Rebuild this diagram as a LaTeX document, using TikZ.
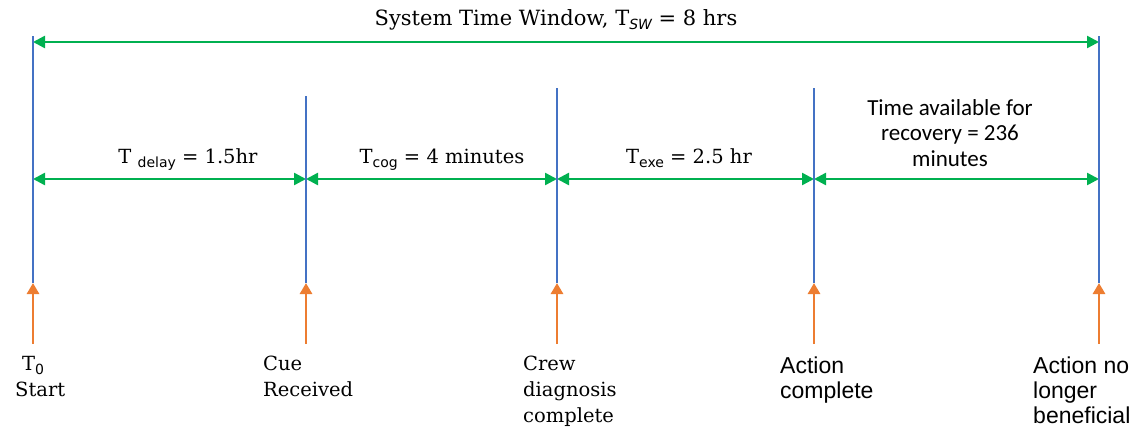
\documentclass[tikz,border=0pt]{standalone}
\usepackage{fontspec}
\setmainfont{DejaVu Serif}
\newfontfamily\calibf{Carlito}
\newfontfamily\arialf{Liberation Sans}
\newfontfamily\subf{DejaVu Sans}
\usetikzlibrary{arrows.meta}
\definecolor{tlgreen}{HTML}{00B050}
\definecolor{tlblue}{HTML}{4472C4}
\definecolor{tlorange}{HTML}{ED7D31}
\newcommand\lowsub[1]{\raisebox{-4.5pt}{\fontsize{14}{14}\selectfont\subf #1}}
\tikzset{
  marker/.style={draw=tlblue, line width=2.8pt},
  span/.style={draw=tlgreen, line width=2.5pt,
    {Triangle[length=12pt,width=12pt]}-{Triangle[length=12pt,width=12pt]}},
  cue/.style={draw=tlorange, line width=2.8pt, -{Triangle[length=11pt,width=12pt]}},
  serif/.style={font=\fontsize{19.5}{26}\selectfont, inner sep=0pt},
  evlabel/.style={serif, anchor=north west, align=left},
  sanslabel/.style={font=\arialf\fontsize{23}{25}\selectfont, inner sep=0pt, anchor=north west, align=left},
  recov/.style={font=\calibf\fontsize{23}{25.5}\selectfont, inner sep=0pt, anchor=north, align=center}
}
\begin{document}
\begin{tikzpicture}[x=1pt,y=-1pt]
\useasboundingbox (0,0) rectangle (1135,429);
% event lines
\coordinate (L0t) at (33,36);   \coordinate (L0b) at (33,283);
\coordinate (L1t) at (306,96);  \coordinate (L1b) at (306,283);
\coordinate (L2t) at (557,88);  \coordinate (L2b) at (557,283);
\coordinate (L3t) at (814,88);  \coordinate (L3b) at (814,283);
\coordinate (L4t) at (1099,36); \coordinate (L4b) at (1099,283);
% span arrow ends
\coordinate (W0) at (33,42);  \coordinate (W4) at (1099,42);
\coordinate (M0) at (33,179); \coordinate (M1) at (306,179);
\coordinate (M2) at (557,179); \coordinate (M3) at (814,179);
\coordinate (M4) at (1099,179);
% cue arrow tails
\coordinate (C0) at (33,344);  \coordinate (C1) at (306,344);
\coordinate (C2) at (557,344); \coordinate (C3) at (814,344);
\coordinate (C4) at (1099,344);

\draw[span] (W0) -- (W4);
\draw[span] (M0) -- (M1);
\draw[span] (M1) -- (M2);
\draw[span] (M2) -- (M3);
\draw[span] (M3) -- (M4);

\foreach \i in {0,...,4} {\draw[marker] (L\i t) -- (L\i b);}
\foreach \i in {0,...,4} {\draw[cue] (C\i) -- (L\i b);}

\node[serif, font=\fontsize{21}{26}\selectfont, anchor=base] (title) at (556,25) {System Time Window, T\lowsub{\itshape SW} = 8 hrs};
\node[serif, anchor=base] (tdelay) at (188,163) {T \lowsub{delay} = 1.5hr};
\node[serif, anchor=base] (tcog) at (442,163) {T\lowsub{cog} = 4 minutes};
\node[serif, anchor=base] (texe) at (689,163) {T\lowsub{exe} = 2.5 hr};
\node[recov] (trec) at (950,99) {Time available for\\recovery = 236\\minutes};

\node[evlabel] (start) at (15,356) {\hspace{7pt}T\lowsub{0}\\Start};
\node[evlabel] (cuerec) at (263,356) {Cue\\Received};
\node[evlabel] (crew) at (523,356) {Crew\\diagnosis\\complete};
\node[sanslabel] (actc) at (780,357) {Action\\complete};
\node[sanslabel] (actn) at (1033,357) {Action no\\longer\\beneficial};
\end{tikzpicture}
\end{document}
